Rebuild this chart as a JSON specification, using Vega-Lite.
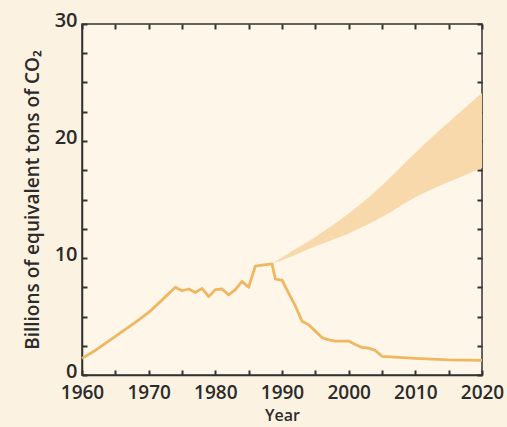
{
  "$schema": "https://vega.github.io/schema/vega-lite/v6.json",
  "width": 400,
  "height": 351,
  "autosize": "none",
  "padding": {"left": 82, "top": 24, "right": 25, "bottom": 52},
  "background": "#fcf2e1",
  "config": {
    "view": {"fill": "#fef6e9", "stroke": "#333333", "strokeWidth": 1.5},
    "axis": {
      "labelFont": "Open Sans", "titleFont": "Open Sans",
      "labelColor": "#2b2b2b", "titleColor": "#2b2b2b",
      "labelFontSize": 20, "titleFontSize": 19, "titleFontWeight": 600, "labelFontWeight": 600,
      "domainColor": "#333333", "domainWidth": 1.5,
      "tickColor": "#333333", "tickWidth": 2, "tickSize": -5,
      "labelFlush": false, "labelOverlap": false,
      "grid": false
    }
  },
  "datasets": {
    "emissions": [
      {"year": 1960, "v": 1.42},
      {"year": 1962, "v": 2.1},
      {"year": 1965, "v": 3.3},
      {"year": 1968, "v": 4.5},
      {"year": 1970, "v": 5.35},
      {"year": 1972, "v": 6.4},
      {"year": 1974, "v": 7.5},
      {"year": 1975, "v": 7.2},
      {"year": 1976, "v": 7.35},
      {"year": 1977, "v": 7.05},
      {"year": 1978, "v": 7.4},
      {"year": 1979, "v": 6.7},
      {"year": 1980, "v": 7.3},
      {"year": 1981, "v": 7.35},
      {"year": 1982, "v": 6.85},
      {"year": 1983, "v": 7.3},
      {"year": 1984, "v": 8.0},
      {"year": 1985, "v": 7.5},
      {"year": 1986, "v": 9.3},
      {"year": 1987, "v": 9.4},
      {"year": 1988.5, "v": 9.5},
      {"year": 1989, "v": 8.2},
      {"year": 1990, "v": 8.1},
      {"year": 1991, "v": 7.0},
      {"year": 1992, "v": 5.9},
      {"year": 1993, "v": 4.6},
      {"year": 1994, "v": 4.3},
      {"year": 1995, "v": 3.75},
      {"year": 1996, "v": 3.2},
      {"year": 1997, "v": 3.0},
      {"year": 1998, "v": 2.9},
      {"year": 2000, "v": 2.9},
      {"year": 2001, "v": 2.6},
      {"year": 2002, "v": 2.35},
      {"year": 2003, "v": 2.3},
      {"year": 2004, "v": 2.1},
      {"year": 2005, "v": 1.6},
      {"year": 2010, "v": 1.42},
      {"year": 2015, "v": 1.3},
      {"year": 2020, "v": 1.25}
    ],
    "projection": [
      {"year": 1988.5, "lo": 9.5, "hi": 9.5},
      {"year": 1990, "lo": 9.8, "hi": 10.05},
      {"year": 1995, "lo": 11.0, "hi": 11.8},
      {"year": 2000, "lo": 12.1, "hi": 13.8},
      {"year": 2005, "lo": 13.5, "hi": 16.2},
      {"year": 2010, "lo": 15.2, "hi": 19.0},
      {"year": 2015, "lo": 16.5, "hi": 21.6},
      {"year": 2020, "lo": 17.7, "hi": 24.1}
    ]
  },
  "layer": [
    {
      "data": {"name": "projection"},
      "mark": {"type": "area", "color": "#f8d9ab", "opacity": 1, "interpolate": "monotone"},
      "encoding": {
        "x": {"field": "year", "type": "quantitative", "scale": {"domain": [1960, 2020], "nice": false},
          "axis": {"orient": "bottom", "values": [1960,1965,1970,1975,1980,1985,1990,1995,2000,2005,2010,2015,2020],
            "labelExpr": "datum.value % 10 == 0 ? datum.label : ''", "format": "d", "title": "Year",
            "labelPadding": 13, "labelFontSize": 19, "titleFontSize": 16, "titlePadding": 5}},
        "y": {"field": "lo", "type": "quantitative", "scale": {"domain": [0, 30], "nice": false},
          "axis": {"orient": "left", "values": [0,2.5,5,7.5,10,12.5,15,17.5,20,22.5,25,27.5,30],
            "labelExpr": "datum.value % 10 == 0 ? datum.label : ''", "labelOffset": -4,
            "title": "Billions of equivalent tons of CO₂", "labelPadding": 10, "titlePadding": 12}},
        "y2": {"field": "hi"}
      }
    },
    {
      "data": {"name": "emissions"},
      "mark": {"type": "line", "color": "#efb762", "strokeWidth": 2.8, "strokeJoin": "round"},
      "encoding": {
        "x": {"field": "year", "type": "quantitative",
          "axis": {"orient": "top", "values": [1960,1965,1970,1975,1980,1985,1990,1995,2000,2005,2010,2015,2020],
            "labels": false, "title": null, "domain": false}},
        "y": {"field": "v", "type": "quantitative",
          "axis": {"orient": "right", "values": [0,2.5,5,7.5,10,12.5,15,17.5,20,22.5,25,27.5,30],
            "labels": false, "title": null, "domain": false}}
      }
    }
  ],
  "resolve": {"axis": {"x": "independent", "y": "independent"}}
}
